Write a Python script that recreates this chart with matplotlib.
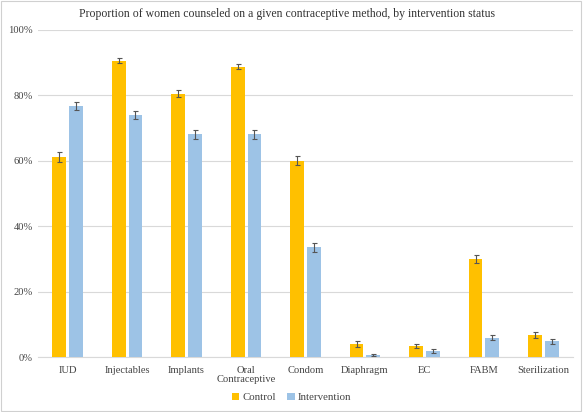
import numpy as np
import matplotlib.pyplot as plt
from matplotlib.patches import Rectangle

methods = ["IUD", "Injectables", "Implants", "Oral\nContraceptive", "Condom",
           "Diaphragm", "EC", "FABM", "Sterilization"]
control = [61.0, 90.5, 80.5, 88.7, 60.0, 4.0, 3.5, 30.0, 6.8]
intervention = [76.8, 74.0, 68.0, 68.0, 33.5, 0.7, 1.8, 6.0, 4.8]
control_err = [1.5, 0.8, 1.2, 0.8, 1.3, 0.8, 0.6, 1.3, 0.8]
intervention_err = [1.2, 1.2, 1.3, 1.3, 1.3, 0.3, 0.6, 0.8, 0.8]

plt.rcParams['font.family'] = ['Liberation Serif', 'DejaVu Serif']

fig = plt.figure(figsize=(5.83, 4.12), dpi=100)
ax = fig.add_axes([0.065, 0.133, 0.918, 0.795])

x = np.arange(len(methods))
w = 0.23
ekw = dict(ecolor='#555555', elinewidth=0.8, capsize=1.8, capthick=0.8)
ax.bar(x - w / 2 - 0.025, control, w, yerr=control_err, color='#FFC000',
       label='Control', error_kw=ekw, zorder=3)
ax.bar(x + w / 2 + 0.025, intervention, w, yerr=intervention_err, color='#9DC3E6',
       label='Intervention', error_kw=ekw, zorder=3)

ax.set_xlim(-0.5, len(methods) - 0.5)
ax.set_ylim(0, 100)
ax.set_yticks([0, 20, 40, 60, 80, 100])
ax.set_yticklabels([f"{v}%" for v in [0, 20, 40, 60, 80, 100]], color='#444444')
ax.set_xticks(x)
ax.set_xticklabels(methods, color='#444444', linespacing=1.05)
ax.tick_params(axis='both', length=0, labelsize=7.6)
ax.tick_params(axis='x', pad=6)
ax.grid(axis='y', color='#d9d9d9', linewidth=0.8, zorder=0)
for s in ['top', 'right', 'left']:
    ax.spines[s].set_visible(False)
ax.spines['bottom'].set_color('#d9d9d9')

fig.text(0.492, 0.967, "Proportion of women counseled on a given contraceptive method, by intervention status",
         fontsize=8.5, color='#333333', ha='center', va='center')

fig.legend(loc='lower center', bbox_to_anchor=(0.5, 0.0), ncol=2, frameon=False,
           fontsize=7.8, handlelength=0.7, handleheight=0.7, handletextpad=0.3,
           columnspacing=1.0, labelcolor='#444444')

fig.patches.append(Rectangle((0.002, 0.003), 0.995, 0.994, transform=fig.transFigure,
                             fill=False, edgecolor='#d0d0d0', linewidth=0.8))

fig.savefig("out.png", dpi=100)
